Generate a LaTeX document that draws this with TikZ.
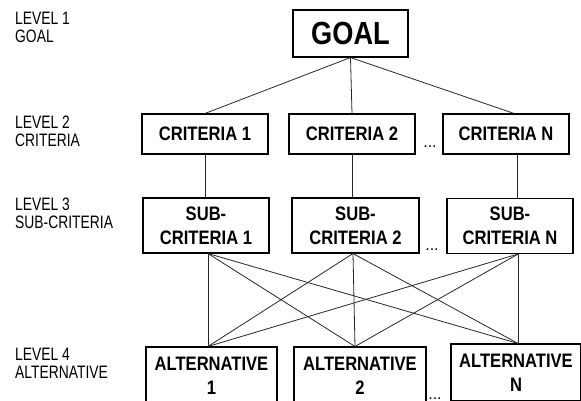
\documentclass[tikz,border=0pt]{standalone}
\usepackage{fontspec}
\usepackage{tikz}
\newfontfamily\lvlfont{Liberation Sans}[FakeStretch=0.77]
\newfontfamily\boxfont{Liberation Sans}[FakeStretch=0.85]
\newfontfamily\dotfont{Liberation Sans}
\tikzstyle{goalbox} = [rectangle, minimum width=115pt, minimum height=47pt,
text centered, draw=black, line width=1.1pt, font=\boxfont\bfseries\fontsize{32}{32}\selectfont]
\tikzstyle{critbox} = [rectangle, minimum width=126pt, minimum height=40pt,
text centered, draw=black, line width=1.1pt, font=\boxfont\bfseries\fontsize{19.5}{24}\selectfont]
\tikzstyle{subbox} = [rectangle, minimum width=126pt, minimum height=55pt,
text centered, align=center, draw=black, line width=1.1pt, font=\boxfont\bfseries\fontsize{19.5}{24}\selectfont]
\tikzstyle{altbox} = [rectangle, minimum width=131pt, minimum height=57pt,
text centered, align=center, draw=black, line width=1.1pt, font=\boxfont\bfseries\fontsize{19.5}{24}\selectfont]
\tikzstyle{level} = [anchor=north west, inner sep=0pt, align=left,
font=\lvlfont\fontsize{18}{18}\selectfont]
\tikzstyle{dots} = [anchor=base, inner sep=0pt, font=\dotfont\fontsize{16}{16}\selectfont]
\tikzstyle{link} = [line width=0.8pt, draw=black!85]

\begin{document}
\begin{tikzpicture}[x=1pt, y=1pt, node distance = 100pt]

\useasboundingbox (0,0) rectangle (581,-401);
\clip (0,0) rectangle (581,-401);

% ------------------------- levels -------------------------

\node(lvl1)[level] at (15,-12) {LEVEL 1\\GOAL};
\node(lvl2)[level] at (15,-116) {LEVEL 2\\CRITERIA};
\node(lvl3)[level] at (15,-198) {LEVEL 3\\SUB-CRITERIA};
\node(lvl4)[level] at (15,-348) {LEVEL 4\\ALTERNATIVE};

% ------------------------- nodes -------------------------

% ----- node: goal
\node(goal)[goalbox] at (350.5,-33.5) {GOAL};
% ----- node: criteria
\node(crit2)[critbox, below of=goal, xshift=1.5pt, yshift=-0.5pt] {CRITERIA 2};
\node(crit1)[critbox, left of=crit2, xshift=-47pt] {CRITERIA 1};
\node(critN)[critbox, right of=crit2, xshift=54pt] {CRITERIA N};
% ----- node: sub-criteria
\node(sub1)[subbox, below of=crit1, xshift=1pt, yshift=8.5pt] {SUB-\\CRITERIA 1};
\node(sub2)[subbox, below of=crit2, xshift=3.5pt, yshift=8.5pt, minimum width=127pt] {SUB-\\CRITERIA 2};
\node(subN)[subbox, below of=critN, xshift=4pt, yshift=8pt] {SUB-\\CRITERIA N};
% ----- node: alternatives
\node(alt1)[altbox, below of=sub1, xshift=5.5pt, yshift=-50pt] {ALTERNATIVE\\1};
\node(alt2)[altbox, below of=sub2, xshift=4.5pt, yshift=-50pt, minimum width=132pt] {ALTERNATIVE\\2};
\node(altN)[altbox, below of=subN, xshift=6pt, yshift=-46.5pt, minimum width=130pt] {ALTERNATIVE\\N};

% ----- dots
\node(dot2)[dots] at (430,-147) {...};
\node(dot3)[dots] at (432,-250) {...};
\node(dot4)[dots] at (435,-399) {...};

% ------------------------- links -------------------------

\coordinate (c3) at ([xshift=8pt]critN.north);
\coordinate (c3b) at ([xshift=11pt]critN.south);
\coordinate (s1) at ([xshift=2pt]sub1.south);
\coordinate (s2) at ([xshift=-2.5pt]sub2.south);
\coordinate (s3) at ([xshift=8pt]subN.south);
\coordinate (a1) at ([xshift=-3.5pt]alt1.north);
\coordinate (a2) at ([xshift=-5pt]alt2.north);
\coordinate (a3) at ([xshift=2pt]altN.north);

\draw[link] (goal.south) -- (crit1.north);
\draw[link] (goal.south) -- (crit2.north);
\draw[link] (goal.south) -- (c3);

\draw[link] (crit1.south) -- (crit1.south |- sub1.north);
\draw[link] (crit2.south) -- (crit2.south |- sub2.north);
\draw[link] (c3b) -- (c3b |- subN.north);

\draw[link] (s1) -- (a1);
\draw[link] (s1) -- (a2);
\draw[link] (s1) -- (a3);
\draw[link] (s2) -- (a1);
\draw[link] (s2) -- (a2);
\draw[link] (s2) -- (a3);
\draw[link] (s3) -- (a1);
\draw[link] (s3) -- (a2);
\draw[link] (s3) -- (a3);

\end{tikzpicture}
\end{document}
